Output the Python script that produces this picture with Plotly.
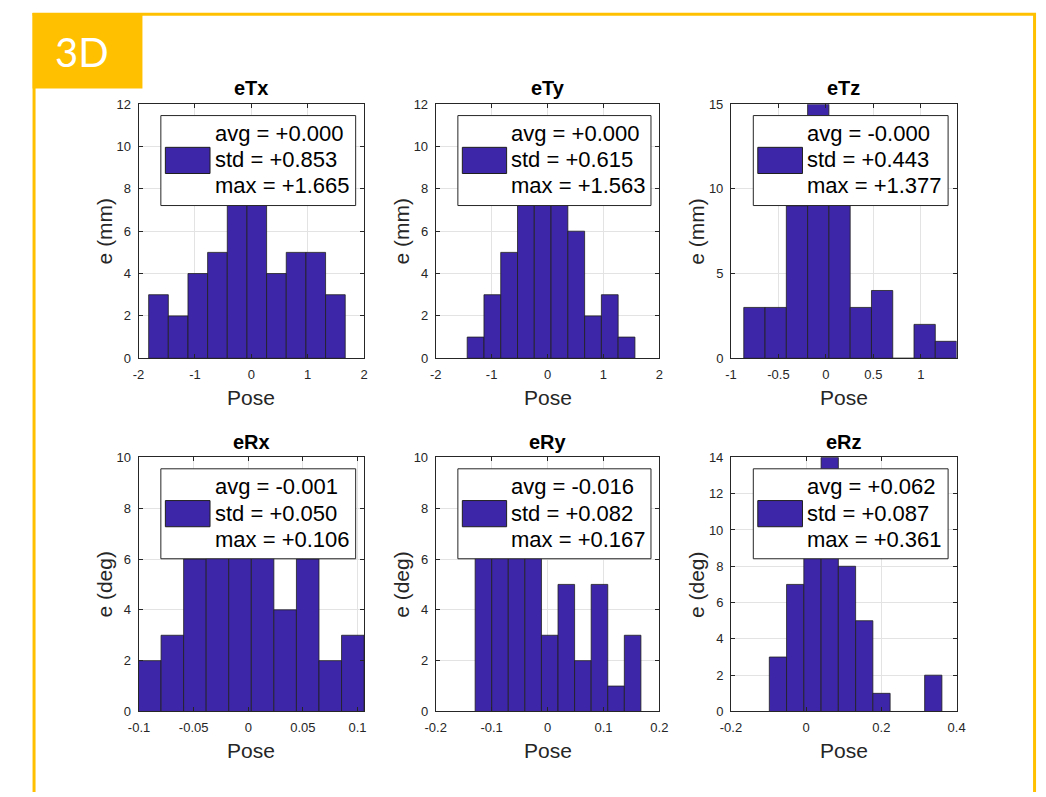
import numpy as np
import plotly.graph_objects as go

W, H = 1046, 797

# ---------------- data ----------------
names = ["eTx", "eTy", "eTz", "eRx", "eRy", "eRz"]
ylabels = ["e (mm)", "e (mm)", "e (mm)", "e (deg)", "e (deg)", "e (deg)"]

counts_eTx = [3, 2, 4, 5, 8, 11, 4, 5, 5, 3]
counts_eTy = [1, 3, 5, 9, 11, 9, 6, 2, 3, 1]
counts_eTz = [3, 3, 9, 15, 10, 3, 4, 0, 2, 1]
counts_eRx = [2, 3, 6, 7, 9, 8, 4, 6, 2, 3]
counts_eRy = [7, 9, 8, 7, 3, 5, 2, 5, 1, 3]
counts_eRz = [3, 7, 10, 14, 8, 5, 1, 0, 0, 2]

bin_lo = [-1.820, -1.437, -0.865, -0.1005, -0.1295, -0.098]
bin_hi = [1.665, 1.563, 1.377, 0.106, 0.167, 0.361]

stat_avg = ["+0.000", "+0.000", "-0.000", "-0.001", "-0.016", "+0.062"]
stat_std = ["+0.853", "+0.615", "+0.443", "+0.050", "+0.082", "+0.087"]
stat_max = ["+1.665", "+1.563", "+1.377", "+0.106", "+0.167", "+0.361"]

x_ranges = [[-2, 2], [-2, 2], [-1, 1.377], [-0.1005, 0.106], [-0.2, 0.2], [-0.2, 0.4]]
y_ranges = [[0, 12], [0, 12], [0, 15], [0, 10], [0, 10], [0, 14]]

x_tickvals = [[-2, -1, 0, 1, 2], [-2, -1, 0, 1, 2], [-1, -0.5, 0, 0.5, 1],
              [-0.1, -0.05, 0, 0.05, 0.1], [-0.2, -0.1, 0, 0.1, 0.2], [-0.2, 0, 0.2, 0.4]]
x_ticktext = [["-2", "-1", "0", "1", "2"], ["-2", "-1", "0", "1", "2"],
              ["-1", "-0.5", "0", "0.5", "1"], ["-0.1", "-0.05", "0", "0.05", "0.1"],
              ["-0.2", "-0.1", "0", "0.1", "0.2"], ["-0.2", "0", "0.2", "0.4"]]
y_dticks = [2, 2, 5, 2, 2, 2]

all_counts = [counts_eTx, counts_eTy, counts_eTz, counts_eRx, counts_eRy, counts_eRz]

# ---------------- style ----------------
BAR = "rgb(62,38,168)"
EDGE = "#1f1f1f"
AXC = "#262626"
GRID = "#e3e3e3"
YEL = "#FFC000"
FONT = "Liberation Sans, Arial, sans-serif"

col_px = [(130, 360), (433, 661), (734, 964)]
row_px = [(99, 358), (459, 718)]


def px_x(p):
    return p / W


def px_y(p):
    return 1 - p / H


fig = go.Figure()
shapes = []
annos = []

for i, name in enumerate(names):
    r, c = divmod(i, 3)
    sfx = "" if i == 0 else str(i + 1)
    edges = np.linspace(bin_lo[i], bin_hi[i], len(all_counts[i]) + 1)
    centers = (edges[:-1] + edges[1:]) / 2
    width = edges[1] - edges[0]
    fig.add_trace(go.Bar(
        x=centers, y=all_counts[i], width=width,
        xaxis="x" + sfx, yaxis="y" + sfx,
        marker=dict(color=BAR, line=dict(color=EDGE, width=0.8)),
        showlegend=False, hoverinfo="x+y"))

    x0, x1 = col_px[c]
    y0, y1 = row_px[r]
    common = dict(showgrid=True, gridcolor=GRID, gridwidth=1, zeroline=False,
                  showline=True, linecolor=AXC, linewidth=1, mirror="ticks",
                  ticks="inside", ticklen=4, tickcolor=AXC,
                  tickfont=dict(family=FONT, size=13, color=AXC))
    fig.layout["xaxis" + sfx] = dict(
        domain=[px_x(x0), px_x(x1)], anchor="y" + sfx, range=x_ranges[i],
        tickvals=x_tickvals[i], ticktext=x_ticktext[i], ticklabelstandoff=4, **common)
    fig.layout["yaxis" + sfx] = dict(
        domain=[px_y(y1), px_y(y0)], anchor="x" + sfx, range=y_ranges[i],
        dtick=y_dticks[i], tick0=0, ticklabelstandoff=4, **common)

    xd = "x" + sfx + " domain"
    yd = "y" + sfx + " domain"
    # legend box
    shapes.append(dict(type="rect", xref=xd, yref=yd, x0=0.099, x1=0.9625, y0=0.601, y1=0.955,
                       fillcolor="white", line=dict(color=AXC, width=1), layer="above"))
    shapes.append(dict(type="rect", xref=xd, yref=yd, x0=0.119, x1=0.317, y0=0.727, y1=0.830,
                       fillcolor=BAR, line=dict(color=EDGE, width=1), layer="above"))
    for txt, yy in ((f"avg = {stat_avg[i]}", 0.884), (f"std = {stat_std[i]}", 0.781),
                    (f"max = {stat_max[i]}", 0.678)):
        annos.append(dict(text=txt, xref=xd, yref=yd, x=0.328, y=yy, xanchor="left",
                          yanchor="middle", showarrow=False,
                          font=dict(family=FONT, size=22, color="black")))
    # title
    annos.append(dict(text=f"<b>{name}</b>", xref="paper", yref="paper",
                      x=px_x((x0 + x1) / 2), y=px_y(y0 - 16), xanchor="center", yanchor="middle",
                      showarrow=False, font=dict(family=FONT, size=20, color="black")))
    # x label
    annos.append(dict(text="Pose", xref="paper", yref="paper",
                      x=px_x((x0 + x1) / 2), y=px_y(y1 + 40), xanchor="center", yanchor="middle",
                      showarrow=False, font=dict(family=FONT, size=21, color=AXC)))
    # y label
    annos.append(dict(text=ylabels[i], xref="paper", yref="paper", textangle=-90,
                      x=px_x(x0 - 35), y=px_y((y0 + y1) / 2), xanchor="center", yanchor="middle",
                      showarrow=False, font=dict(family=FONT, size=21, color=AXC)))

# slide frame
shapes.append(dict(type="line", xref="paper", yref="paper", x0=px_x(22), x1=px_x(1045),
                   y0=px_y(7.5), y1=px_y(7.5), line=dict(color=YEL, width=3), layer="above"))
shapes.append(dict(type="line", xref="paper", yref="paper", x0=px_x(23.5), x1=px_x(23.5),
                   y0=px_y(6), y1=px_y(800), line=dict(color=YEL, width=3), layer="above"))
shapes.append(dict(type="line", xref="paper", yref="paper", x0=px_x(1043.5), x1=px_x(1043.5),
                   y0=px_y(6), y1=px_y(800), line=dict(color=YEL, width=3), layer="above"))
shapes.append(dict(type="rect", xref="paper", yref="paper", x0=px_x(22), x1=px_x(134),
                   y0=px_y(83), y1=px_y(6), fillcolor=YEL, line=dict(width=0), layer="above"))
annos.append(dict(text="3D", xref="paper", yref="paper", x=px_x(72), y=px_y(46),
                  xanchor="center", yanchor="middle", showarrow=False,
                  font=dict(family="Lato, Open Sans, sans-serif", size=40, color="white")))

fig.update_layout(width=W, height=H, margin=dict(l=0, r=0, t=0, b=0),
                  paper_bgcolor="white", plot_bgcolor="white",
                  shapes=shapes, annotations=annos, showlegend=False)

fig.write_html("out.html", config={"displayModeBar": False},
               post_script="document.body.style.margin='0';document.body.style.overflow='hidden';")
